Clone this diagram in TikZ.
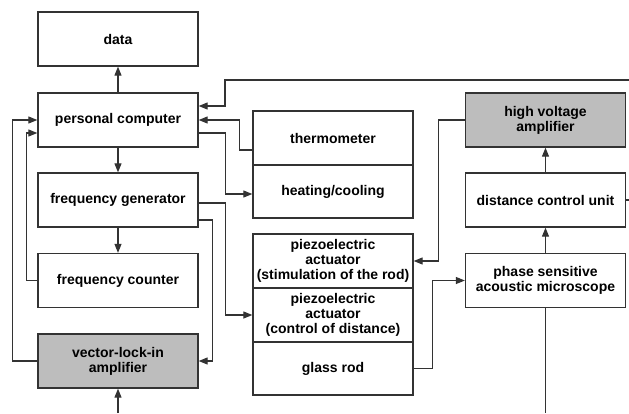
\documentclass[tikz,border=0pt]{standalone}
\usepackage{fontspec}
\setmainfont{Liberation Sans}
\usetikzlibrary{arrows.meta,calc}
\definecolor{lnc}{HTML}{333333}
\definecolor{grayfill}{HTML}{BDBDBD}
\begin{document}
\begin{tikzpicture}[x=1pt,y=-1pt,
  blk/.style={draw=lnc,line width=1.3pt,minimum width=160pt,minimum height=54pt,
    inner sep=1pt,align=center,font=\fontsize{14}{15}\selectfont\bfseries},
  shaded/.style={blk,fill=grayfill},
  arr/.style={draw=lnc,line width=1.1pt,-{Triangle[length=9pt,width=7pt]}},
  ln/.style={draw=lnc,line width=1.1pt}]
\useasboundingbox[fill=white] (0,0) rectangle (629,413);
% left column
\node[blk] (data) at (118,39) {data};
\node[blk] (pc) at (118,120) {personal computer};
\node[blk] (fg) at (118,200) {frequency generator};
\node[blk] (fc) at (118,280.5) {frequency counter};
\node[shaded] (vla) at (118,361) {vector-lock-in\\amplifier};
% middle column
\node[blk] (thermo) at (333,138) {thermometer};
\node[blk,minimum height=53pt] (heat) at (333,191.5) {heating/cooling};
\node[blk] (stim) at (333,261) {piezoelectric\\actuator\\(stimulation of the rod)};
\node[blk] (ctrl) at (333,315) {piezoelectric\\actuator\\(control of distance)};
\node[blk,minimum height=53pt] (glass) at (333,368.5) {glass rod};
% right column
\node[shaded] (hv) at (545.5,120) {high voltage\\amplifier};
\node[blk] (dcu) at (545.5,200) {distance control unit};
\node[blk] (psam) at (545.5,280.5) {phase sensitive\\acoustic microscope};
% free ends
\coordinate (topR) at (629,80);
\coordinate (dcuR) at (629,200);
\coordinate (vlaB) at (118,413);
\coordinate (psamB) at (545.5,413);
% vertical arrows
\draw[arr] (pc.north) -- (data.south);
\draw[arr] (pc.south) -- (fg.north);
\draw[arr] (fg.south) -- (fc.north);
\draw[arr] (psam.north) -- (dcu.south);
\draw[arr] (dcu.north) -- (hv.south);
\draw[arr] (vlaB) -- (vla.south);
\draw[ln] (psam.south) -- (psamB);
\draw[ln] (dcu.east) -- (dcuR);
% connections around PC
\draw[arr] (topR) -- (225,80) |- ($(pc.east)+(0,-14)$);
\draw[arr] ($(thermo.west)+(0,12)$) -- ++(-13,0) |- (pc.east);
\draw[arr] ($(pc.east)+(0,13)$) -- ++(27,0) |- ($(heat.west)+(0,2.5)$);
\draw[arr] ($(fg.east)+(0,3)$) -- ++(27,0) |- (ctrl.west);
\draw[arr] ($(fg.east)+(0,20)$) -- ++(14,0) |- (vla.east);
\draw[arr] (fc.west) -- ++(-11,0) |- ($(pc.west)+(0,13)$);
\draw[arr] (vla.west) -- ++(-25,0) |- (pc.west);
% right side
\draw[arr] (hv.west) -- ++(-26.5,0) |- (stim.east);
\draw[arr] (glass.east) -- ++(19,0) |- (psam.west);
\end{tikzpicture}
\end{document}
